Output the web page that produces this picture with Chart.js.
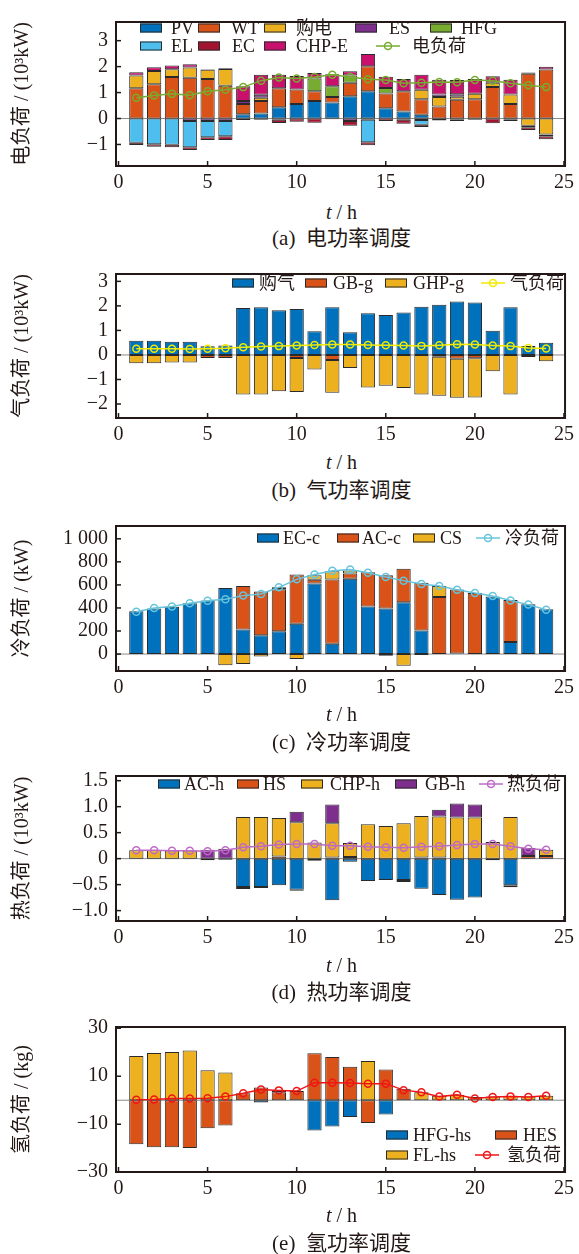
<!DOCTYPE html>
<html>
<head>
<meta charset="utf-8">
<script src="https://cdn.jsdelivr.net/npm/chart.js@4.4.0/dist/chart.umd.min.js"></script>
<style>
  body { margin: 0; background: #fff; width: 579px; height: 1254px; position: relative; overflow: hidden;
         font-family: "Liberation Serif", "Times New Roman", "Noto Sans CJK SC", serif; color: #231815; }
  canvas { position: absolute; left: 0; }
  .lab { position: absolute; left: 116px; width: 451px; text-align: center; font-size: 20px; line-height: 24px; white-space: pre; }
</style>
</head>
<body>
<script>
const HOURS = [1,2,3,4,5,6,7,8,9,10,11,12,13,14,15,16,17,18,19,20,21,22,23,24];
const X_TICKS = [0, 5, 10, 15, 20, 25];

// (a) electric, 10^3 kW
const E_PV   = [0,0,0,0,0,0,0.16,0.19,0.43,0.56,0.68,0.62,0.86,1.05,0.40,0.27,0.15,0,0,0,0,0,0,0];
const E_WT   = [1.17,1.32,1.60,1.57,1.52,1.26,0.40,0.49,0.74,0.56,0.37,0.21,0.52,0.96,0.56,0.78,0.59,0.46,0.72,0.74,1.21,0.56,1.73,1.89];
const E_BUY  = [0.49,0.51,0.30,0.40,0.36,0.65,0,0.12,0,0,0,0,0,0,0,0,0.37,0.37,0.12,0.21,0.17,0.37,-0.28,-0.62];
const E_ES   = [0,0,0,-0.10,-0.10,-0.10,0.12,0.12,-0.05,0,0,0,-0.10,-0.05,0,-0.05,-0.06,0.10,0.10,0,0,0,0,0];
const E_HFG  = [0,0,0,0,0,0,0,0,0,0,0.49,0.41,0.28,0,0.22,0,0,0,0,0,0,0,0,0];
const E_EL   = [-0.93,-0.99,-1.01,-1.01,-0.62,-0.58,0,0,0,0,0,0,0,-0.86,0,0,-0.18,0,-0.05,0,0,-0.05,-0.06,-0.06];
const E_EC   = [-0.09,-0.10,-0.10,-0.10,-0.11,-0.15,-0.06,-0.05,-0.12,-0.12,-0.16,-0.03,-0.18,-0.12,-0.10,-0.15,-0.09,-0.08,-0.05,-0.05,-0.18,-0.05,-0.10,-0.12];
const E_CHP  = [0.12,0.15,0.14,0.12,0.02,0.03,0.56,0.77,0.52,0.52,0.21,0.47,0.16,0.48,0.43,0.47,0.58,0.56,0.54,0.57,0.25,0.56,0.04,0.11];
const E_LOAD = [0.80,0.89,0.95,0.90,1.05,1.11,1.21,1.46,1.58,1.54,1.60,1.69,1.60,1.51,1.48,1.36,1.38,1.41,1.40,1.48,1.46,1.36,1.28,1.21];
const E_TICKS = [-1, 0, 1, 2, 3];

// (b) gas, 10^3 kW
const G_BUY  = [0.58,0.58,0.54,0.54,0.35,0.39,1.91,1.94,1.82,1.87,0.97,1.94,0.93,1.70,1.63,1.73,1.96,2.05,2.18,2.14,0.99,1.94,0.37,0.50];
const G_GB   = [0,0,0,0,-0.12,-0.12,0,0,0,-0.12,0,-0.21,0,0,0,0,0,-0.07,-0.15,-0.13,0,0,-0.08,0];
const G_GHP  = [-0.34,-0.34,-0.31,-0.31,0,0,-1.61,-1.61,-1.48,-1.39,-0.59,-1.33,-0.53,-1.33,-1.26,-1.35,-1.61,-1.59,-1.59,-1.60,-0.66,-1.61,0,-0.26];
const G_LOAD = [0.25,0.25,0.25,0.24,0.25,0.27,0.31,0.34,0.36,0.39,0.41,0.43,0.43,0.41,0.40,0.39,0.37,0.40,0.44,0.43,0.39,0.36,0.28,0.26];
const G_TICKS = [-2, -1, 0, 1, 2, 3];

// (c) cooling, kW
const C_EC   = [371,396,410,440,465,573,213,163,197,263,612,89,654,413,396,449,205,0,5,0,499,105,432,388];
const C_AC   = [0,0,0,0,0,0,377,380,366,427,33,557,44,296,288,291,413,496,555,529,0,363,0,0];
const C_CS   = [0,0,0,0,0,-97,-86,-22,17,-42,39,72,28,0,-14,-102,-8,94,0,0,0,0,0,0];
const C_LOAD = [368,399,413,440,462,476,507,521,579,648,690,723,734,706,668,637,607,590,557,529,504,465,429,385];
const C_TICKS = [0, 200, 400, 600, 800, 1000];

// (d) heat, 10^3 kW
const H_AC   = [0,0,0,0,0,0,-0.545,-0.545,-0.51,-0.60,-0.04,-0.80,-0.06,-0.43,-0.41,-0.41,-0.58,-0.70,-0.79,-0.75,0,-0.51,0,0];
const H_HS   = [0,0,0,0,-0.03,-0.02,-0.04,-0.02,0.04,-0.02,0,0.02,0.03,0,0,-0.04,0.02,0.02,0,0,-0.03,-0.04,0.05,0.05];
const H_CHP  = [0.16,0.16,0.155,0.155,0,0,0.80,0.80,0.74,0.70,0.31,0.66,0.27,0.66,0.63,0.68,0.80,0.79,0.79,0.79,0.32,0.80,0,0.12];
const H_GB   = [0,0,0,0,0.17,0.19,0,0,0,0.20,0,0.36,0,0,0,0,0,0.13,0.27,0.25,0,0,0.155,0];
const H_LOAD = [0.16,0.16,0.15,0.15,0.14,0.16,0.22,0.24,0.27,0.28,0.28,0.25,0.25,0.23,0.22,0.21,0.23,0.24,0.26,0.28,0.28,0.24,0.19,0.17];
const H_TICKS = [-1, -0.5, 0, 0.5, 1, 1.5];

// (e) hydrogen, kg
const Y_HFG  = [0,0,0,0,0,0,0,-1.0,0,0,-12.6,-10.9,-7.0,0,-6.0,0,0,0,0,0,0,0,0,0];
const Y_HES  = [-18.3,-19.6,-19.6,-19.9,-11.7,-10.5,2.9,5.3,3.3,3.8,19.6,18.0,13.9,-9.5,12.8,4.8,0,0,0,0,0,0,0,0];
const Y_FL   = [18.4,19.7,20.1,20.7,12.5,11.5,0,0,0.7,0,0,0,0,16.3,0,0,3.3,1.9,2.3,1.3,1.6,1.9,1.6,1.9];
const Y_LOAD = [0.2,0.3,0.7,0.7,0.8,1.5,2.9,4.5,4.1,3.8,7.3,7.3,7.2,6.9,6.9,4.2,3.3,1.5,2.3,0.7,1.3,1.6,1.3,1.9];
const Y_TICKS = [-30, -10, 10, 30];

const BLUE = '#0072BD', ORANGE = '#D95319', YELLOW = '#EDB120', PURPLE = '#7E2F8E',
      GREEN = '#77AC30', SKY = '#4DBEEE', DRED = '#A2142F', MAGENTA = '#C8106C';
const FONT = '"Liberation Serif", "Times New Roman", "Noto Sans CJK SC", serif';
const INK = '#231815';

Chart.defaults.font.family = FONT;
Chart.defaults.color = INK;

function bars(label, vals, color) {
  return {
    type: 'bar', label, stack: 's',
    data: HOURS.map((h, i) => ({ x: h, y: vals[i] === 0 ? null : vals[i] })),
    backgroundColor: color, borderColor: '#2a2a2a', borderWidth: 1, borderSkipped: false,
    barPercentage: 0.8, categoryPercentage: 1
  };
}

function loadLine(label, vals, color) {
  return {
    type: 'line', label, stack: 'load', order: -1,
    data: HOURS.map((h, i) => ({ x: h, y: vals[i] })),
    borderColor: color, borderWidth: 1.5, tension: 0,
    pointRadius: 3.5, pointBorderWidth: 1.5, pointBorderColor: color,
    pointBackgroundColor: 'rgba(0,0,0,0)'
  };
}

// frame, inward ticks, zero line and the in-plot legend
function framePlugin(legend, top) {
  return {
    id: 'frame',
    beforeDatasetsDraw(chart) {
      const { ctx, chartArea: a, scales: { y } } = chart;
      const y0 = y.getPixelForValue(0);
      ctx.save();
      ctx.strokeStyle = '#8a8a8a';
      ctx.lineWidth = 1;
      ctx.beginPath(); ctx.moveTo(a.left, y0); ctx.lineTo(a.right, y0); ctx.stroke();
      ctx.restore();
    },
    afterDraw(chart) {
      const { ctx, chartArea: a, scales: { x, y } } = chart;
      ctx.save();
      ctx.strokeStyle = INK;
      ctx.lineWidth = 2;
      ctx.strokeRect(a.left, a.top, a.right - a.left, a.bottom - a.top);
      ctx.lineWidth = 1.5;
      x.ticks.forEach(t => {
        const px = x.getPixelForValue(t.value);
        ctx.beginPath(); ctx.moveTo(px, a.bottom); ctx.lineTo(px, a.bottom - 5); ctx.stroke();
      });
      y.ticks.forEach(t => {
        const py = y.getPixelForValue(t.value);
        ctx.beginPath(); ctx.moveTo(a.left, py); ctx.lineTo(a.left + 5, py); ctx.stroke();
      });

      ctx.font = '18px ' + FONT;
      ctx.textBaseline = 'middle';
      ctx.textAlign = 'left';
      legend.forEach(it => {
        const cy = it.y - top;
        if (it.line) {
          ctx.strokeStyle = it.color;
          ctx.lineWidth = 1.5;
          ctx.beginPath(); ctx.moveTo(it.bx, cy); ctx.lineTo(it.bx + 24, cy); ctx.stroke();
          ctx.beginPath(); ctx.arc(it.bx + 12, cy, 3.5, 0, Math.PI * 2); ctx.stroke();
        } else {
          ctx.fillStyle = it.color;
          ctx.fillRect(it.bx, cy - 4.5, 22, 9);
          ctx.strokeStyle = '#2a2a2a';
          ctx.lineWidth = 1;
          ctx.strokeRect(it.bx + 0.5, cy - 4, 21, 8);
        }
        ctx.fillStyle = INK;
        ctx.fillText(it.text, it.tx, cy + 1);
      });
      ctx.restore();
    }
  };
}

function makePanel(p) {
  const top = p.plotTop - 14;
  const h = p.plotBottom - p.plotTop + 14 + 32;
  const cv = document.createElement('canvas');
  cv.width = 579; cv.height = h;
  cv.style.top = top + 'px'; cv.style.width = '579px'; cv.style.height = h + 'px';
  document.body.appendChild(cv);

  const xt = document.createElement('div');
  xt.className = 'lab';
  xt.style.top = (p.plotBottom + p.xtOff - 12) + 'px';
  xt.innerHTML = '<i>t</i> / h';
  document.body.appendChild(xt);
  const cap = document.createElement('div');
  cap.className = 'lab';
  cap.style.top = (p.plotBottom + p.capOff - 12) + 'px';
  cap.style.fontSize = '21px';
  cap.textContent = p.caption;
  document.body.appendChild(cap);

  new Chart(cv.getContext('2d'), {
    data: { datasets: p.datasets },
    options: {
      responsive: false,
      animation: false,
      layout: { padding: { top: 14, right: 12, left: 0, bottom: 0 } },
      plugins: { legend: { display: false }, tooltip: { enabled: false } },
      scales: {
        x: {
          type: 'linear', stacked: true, min: -0.14, max: 25.06, offset: false,
          grid: { display: false, drawTicks: false, offset: false },
          border: { display: false },
          afterBuildTicks: s => { s.ticks = X_TICKS.map(v => ({ value: v })); },
          ticks: { font: { size: 20 }, padding: 5, maxRotation: 0, autoSkip: false },
          afterFit: s => { s.height = 32; }
        },
        y: {
          type: 'linear', stacked: true, min: p.ymin, max: p.ymax,
          grid: { display: false, drawTicks: false },
          border: { display: false },
          afterBuildTicks: s => { s.ticks = p.yTicks.map(v => ({ value: v })); },
          ticks: { font: { size: 20 }, padding: 8, autoSkip: false, callback: p.yLabel },
          title: { display: true, text: p.yTitle, font: { size: 20 }, padding: { top: 11, bottom: 0 } },
          afterFit: s => { s.width = 116; }
        }
      }
    },
    plugins: [framePlugin(p.legend, top)]
  });
}

const minus = v => (v < 0 ? '\u2212' : '') + Math.abs(v);

makePanel({
  plotTop: 16, plotBottom: 166, ymin: -1.83, ymax: 3.72, yTicks: E_TICKS, yLabel: minus,
  yTitle: '电负荷 / (10³kW)', caption: '(a)  电功率调度', xtOff: 46, capOff: 72,
  datasets: [
    bars('PV', E_PV, BLUE), bars('WT', E_WT, ORANGE), bars('购电', E_BUY, YELLOW),
    bars('ES', E_ES, PURPLE), bars('HFG', E_HFG, GREEN), bars('EL', E_EL, SKY),
    bars('EC', E_EC, DRED), bars('CHP-E', E_CHP, MAGENTA), loadLine('电负荷', E_LOAD, GREEN)
  ],
  legend: [
    { color: BLUE, text: 'PV', bx: 140, tx: 171, y: 28 },
    { color: ORANGE, text: 'WT', bx: 198, tx: 231, y: 28 },
    { color: YELLOW, text: '购电', bx: 264, tx: 296, y: 28 },
    { color: PURPLE, text: 'ES', bx: 355, tx: 389, y: 28 },
    { color: GREEN, text: 'HFG', bx: 430, tx: 461, y: 28 },
    { color: SKY, text: 'EL', bx: 140, tx: 171, y: 46 },
    { color: DRED, text: 'EC', bx: 198, tx: 232, y: 46 },
    { color: MAGENTA, text: 'CHP-E', bx: 264, tx: 296, y: 46 },
    { color: GREEN, text: '电负荷', bx: 376, tx: 412, y: 46, line: true }
  ]
});

makePanel({
  plotTop: 268, plotBottom: 418, ymin: -2.57, ymax: 3.3, yTicks: G_TICKS, yLabel: minus,
  yTitle: '气负荷 / (10³kW)', caption: '(b)  气功率调度', xtOff: 44, capOff: 72,
  datasets: [
    bars('购气', G_BUY, BLUE), bars('GB-g', G_GB, ORANGE), bars('GHP-g', G_GHP, YELLOW),
    loadLine('气负荷', G_LOAD, '#F2EA00')
  ],
  legend: [
    { color: BLUE, text: '购气', bx: 232, tx: 259, y: 283 },
    { color: ORANGE, text: 'GB-g', bx: 305, tx: 333, y: 283 },
    { color: YELLOW, text: 'GHP-g', bx: 385, tx: 413, y: 283 },
    { color: '#F2EA00', text: '气负荷', bx: 481, tx: 510, y: 283, line: true }
  ]
});

makePanel({
  plotTop: 520, plotBottom: 671, ymin: -147, ymax: 1111, yTicks: C_TICKS,
  yLabel: v => (v === 1000 ? '1 000' : String(v)),
  yTitle: '冷负荷 / (kW)', caption: '(c)  冷功率调度', xtOff: 43, capOff: 71,
  datasets: [
    bars('EC-c', C_EC, BLUE), bars('AC-c', C_AC, ORANGE), bars('CS', C_CS, YELLOW),
    loadLine('冷负荷', C_LOAD, '#66C4DC')
  ],
  legend: [
    { color: BLUE, text: 'EC-c', bx: 257, tx: 283, y: 538 },
    { color: ORANGE, text: 'AC-c', bx: 337, tx: 362, y: 538 },
    { color: YELLOW, text: 'CS', bx: 413, tx: 440, y: 538 },
    { color: '#66C4DC', text: '冷负荷', bx: 476, tx: 505, y: 538, line: true }
  ]
});

makePanel({
  plotTop: 770, plotBottom: 921, ymin: -1.2, ymax: 1.59, yTicks: H_TICKS,
  yLabel: v => (v === 0 ? '0' : (v < 0 ? '\u2212' : '') + Math.abs(v).toFixed(1)),
  yTitle: '热负荷 / (10³kW)', caption: '(d)  热功率调度', xtOff: 44, capOff: 71,
  datasets: [
    bars('AC-h', H_AC, BLUE), bars('HS', H_HS, ORANGE), bars('CHP-h', H_CHP, YELLOW),
    bars('GB-h', H_GB, PURPLE), loadLine('热负荷', H_LOAD, '#BD6BC6')
  ],
  legend: [
    { color: BLUE, text: 'AC-h', bx: 158, tx: 184, y: 784 },
    { color: ORANGE, text: 'HS', bx: 237, tx: 263, y: 784 },
    { color: YELLOW, text: 'CHP-h', bx: 301, tx: 330, y: 784 },
    { color: PURPLE, text: 'GB-h', bx: 395, tx: 425, y: 784 },
    { color: '#BD6BC6', text: '热负荷', bx: 479, tx: 507, y: 784, line: true }
  ]
});

makePanel({
  plotTop: 1021, plotBottom: 1172, ymin: -29.9, ymax: 30.5, yTicks: Y_TICKS, yLabel: minus,
  yTitle: '氢负荷 / (kg)', caption: '(e)  氢功率调度', xtOff: 43, capOff: 71,
  datasets: [
    bars('HFG-hs', Y_HFG, BLUE), bars('HES', Y_HES, ORANGE), bars('FL-hs', Y_FL, YELLOW),
    loadLine('氢负荷', Y_LOAD, '#F01414')
  ],
  legend: [
    { color: BLUE, text: 'HFG-hs', bx: 386, tx: 413, y: 1135 },
    { color: ORANGE, text: 'HES', bx: 495, tx: 523, y: 1135 },
    { color: YELLOW, text: 'FL-hs', bx: 386, tx: 413, y: 1155 },
    { color: '#F01414', text: '氢负荷', bx: 475, tx: 507, y: 1155, line: true }
  ]
});
</script>
</body>
</html>
